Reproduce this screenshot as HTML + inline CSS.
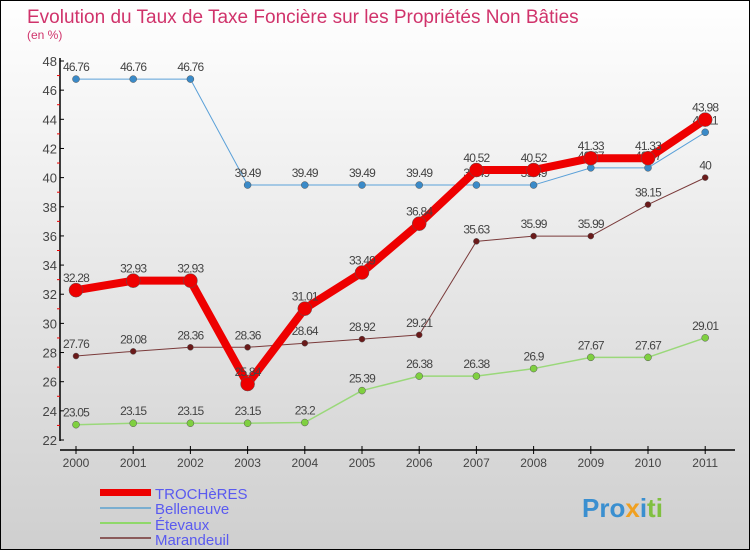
<!DOCTYPE html>
<html><head><meta charset="utf-8"><style>
body{margin:0}
svg text{font-family:"Liberation Sans",sans-serif}
</style></head><body>
<svg id="c" width="750" height="550" xmlns="http://www.w3.org/2000/svg">
<defs><linearGradient id="bg" x1="0" y1="0" x2="0" y2="1"><stop offset="0" stop-color="#ffffff"/><stop offset="1" stop-color="#cfcfcf"/></linearGradient></defs>
<rect x="0.5" y="0.5" width="749" height="549" fill="url(#bg)" stroke="#000"/>
<text x="27" y="23" font-size="19" fill="#d0336b">Evolution du Taux de Taxe Foncière sur les Propriétés Non Bâties</text>
<text x="27" y="39" font-size="12" fill="#d0336b">(en %)</text>
<g id="axes"></g><g id="series"></g>
<g>
<rect x="100" y="489" width="51" height="7" fill="#e00"/>
<text x="155" y="499" font-size="15" fill="#5a5af0">TROCHèRES</text>
<rect x="100" y="507" width="51" height="2" fill="#7aaed0"/>
<text x="155" y="514" font-size="15" fill="#5a5af0">Belleneuve</text>
<rect x="100" y="522" width="51" height="2" fill="#8fd86a"/>
<text x="155" y="530" font-size="15" fill="#5a5af0">Étevaux</text>
<rect x="100" y="537" width="51" height="2" fill="#8a5a5a"/>
<text x="155" y="545" font-size="15" fill="#5a5af0">Marandeuil</text>
</g>
<text x="582" y="517" font-size="26" font-weight="bold"><tspan fill="#3a8fd0">Pro</tspan><tspan fill="#f0a020">x</tspan><tspan fill="#3a8fd0">i</tspan><tspan fill="#80c040">ti</tspan></text>
</svg>
<script>
const years=["2000","2001","2002","2003","2004","2005","2006","2007","2008","2009","2010","2011"];
const yTicks=[22,24,26,28,30,32,34,36,38,40,42,44,46,48];
const trocheres=[32.28,32.93,32.93,25.84,31.01,33.49,36.84,40.52,40.52,41.33,41.33,43.98];
const belleneuve=[46.76,46.76,46.76,39.49,39.49,39.49,39.49,39.49,39.49,40.67,40.67,43.11];
const etevaux=[23.05,23.15,23.15,23.15,23.2,25.39,26.38,26.38,26.9,27.67,27.67,29.01];
const marandeuil=[27.76,28.08,28.36,28.36,28.64,28.92,29.21,35.63,35.99,35.99,38.15,40];
const NS="http://www.w3.org/2000/svg";
const X=i=>76+i*57.2, Y=v=>440-(v-22)*(379/26);
function mk(t,a,p){const e=document.createElementNS(NS,t);for(const k in a)e.setAttribute(k,a[k]);p.appendChild(e);return e;}
const ax=document.getElementById('axes');
let l=mk('line',{x1:60,y1:58,x2:60,y2:441,stroke:'#000','stroke-width':1.5},ax);

l=mk('line',{x1:60,y1:450,x2:735,y2:450,stroke:'#000','stroke-width':1.5},ax);

yTicks.forEach(v=>{mk('line',{x1:60,y1:Y(v),x2:64,y2:Y(v),stroke:'#000'},ax);
 if(v<48)mk('line',{x1:57,y1:Y(v+1),x2:60,y2:Y(v+1),stroke:'#e00'},ax);
 const t=mk('text',{x:57,y:Y(v)+5,'font-size':13,fill:'#444','text-anchor':'end'},ax);t.textContent=v;
 });
years.forEach((y,i)=>{mk('line',{x1:X(i),y1:446,x2:X(i),y2:454,stroke:'#000'},ax);
 const t=mk('text',{x:X(i),y:467,'font-size':12,fill:'#444','text-anchor':'middle'},ax);t.textContent=y;
 });
const sg=document.getElementById('series');
function draw(name,vals,col,w,r,dot){const g=mk('g',{},sg);
 
 const p=mk('polyline',{points:vals.map((v,i)=>X(i)+','+Y(v)).join(' '),fill:'none',stroke:col,'stroke-width':w,'stroke-linejoin':'round'},g);
 
 vals.forEach((v,i)=>{const c=mk('circle',{cx:X(i),cy:Y(v),r:r,fill:dot,stroke:'#555','stroke-width':0.5},g);
  
  const t=mk('text',{x:X(i),y:Y(v)-8,'font-size':12,fill:'#444','text-anchor':'middle','letter-spacing':'-0.8'},g);t.textContent=v;
  });}
draw('etevaux',etevaux,'#9ad87a',1.5,3.5,'#7fd040');
draw('marandeuil',marandeuil,'#7a3a3a',1,3,'#6a1a1a');
draw('belleneuve',belleneuve,'#5aa0d8',1,3.5,'#3a8ac8');
draw('trocheres',trocheres,'#ee0000',8,7,'#ee0000');
</script>
</body></html>
